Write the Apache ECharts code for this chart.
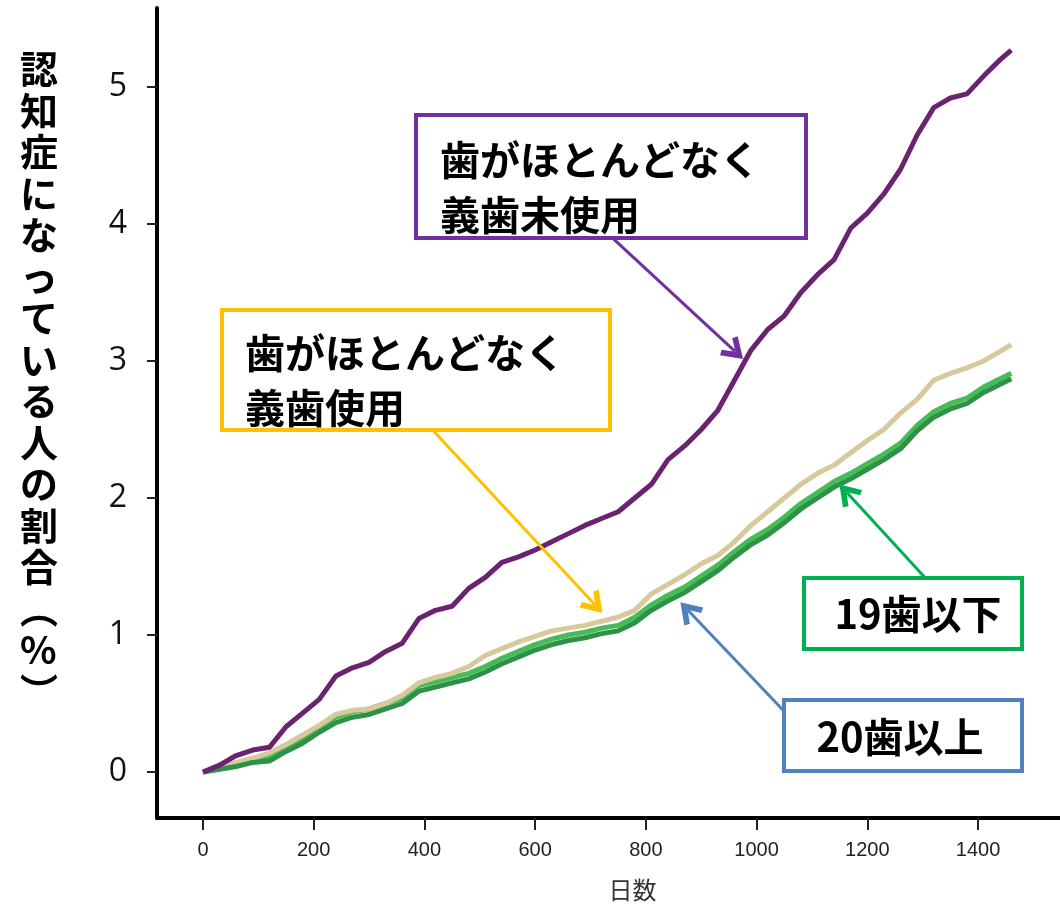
<!DOCTYPE html>
<html>
<head>
<meta charset="utf-8">
<script src="https://cdn.jsdelivr.net/npm/echarts@6/dist/echarts.min.js"></script>
<style>
html,body{margin:0;padding:0;background:#fff;}
#chart{width:1060px;height:910px;}
</style>
</head>
<body>
<div id="chart"></div>
<script>
// ---- data ----
const days = [0,30,60,90,120,150,180,210,240,270,300,330,360,390,420,450,480,510,540,570,600,630,660,690,720,750,780,810,840,870,900,930,960,990,1020,1050,1080,1110,1140,1170,1200,1230,1260,1290,1320,1350,1380,1410,1440,1460];
const seriesNames = ['歯がほとんどなく義歯未使用','歯がほとんどなく義歯使用','19歯以下','20歯以上'];
const noTeethNoDenture = [0,0.05,0.12,0.16,0.18,0.33,0.43,0.53,0.70,0.76,0.80,0.88,0.94,1.12,1.18,1.21,1.34,1.42,1.53,1.57,1.62,1.68,1.74,1.80,1.85,1.90,2.00,2.10,2.28,2.38,2.50,2.64,2.86,3.08,3.23,3.33,3.50,3.63,3.74,3.97,4.08,4.22,4.40,4.65,4.85,4.92,4.95,5.08,5.20,5.27];
const noTeethDenture   = [0,0.03,0.07,0.10,0.14,0.20,0.27,0.34,0.42,0.45,0.46,0.50,0.56,0.65,0.69,0.72,0.77,0.85,0.90,0.95,0.99,1.03,1.05,1.07,1.10,1.13,1.18,1.30,1.37,1.44,1.52,1.58,1.68,1.80,1.90,2.00,2.10,2.18,2.24,2.33,2.42,2.50,2.62,2.72,2.86,2.91,2.95,3.00,3.07,3.12];
const teeth19orLess    = [0,0.03,0.06,0.09,0.11,0.18,0.25,0.33,0.40,0.44,0.46,0.50,0.54,0.63,0.66,0.69,0.72,0.77,0.83,0.88,0.93,0.97,1.00,1.02,1.05,1.07,1.13,1.22,1.29,1.35,1.43,1.51,1.61,1.70,1.77,1.86,1.96,2.04,2.12,2.18,2.25,2.32,2.40,2.53,2.63,2.69,2.73,2.81,2.87,2.91];
const teeth20orMore    = [0,0.02,0.04,0.07,0.08,0.15,0.21,0.29,0.36,0.40,0.42,0.46,0.50,0.59,0.62,0.65,0.68,0.73,0.79,0.84,0.89,0.93,0.96,0.98,1.01,1.03,1.09,1.18,1.25,1.31,1.39,1.47,1.57,1.66,1.73,1.82,1.92,2.00,2.08,2.14,2.21,2.28,2.36,2.49,2.59,2.65,2.69,2.77,2.83,2.87];
const xTicks = [0,200,400,600,800,1000,1200,1400];
const yTicks = [0,1,2,3,4,5];
const xTitle = '日数';
const yTitle = '認知症になっている人の割合︵%︶';
const boxTexts = ['歯がほとんどなく\n義歯未使用','歯がほとんどなく\n義歯使用','19歯以下','20歯以上'];
// arrow start/end in data units [day, %]
const arrows = [
  [[739,3.90],[961,3.07]],
  [[414,2.50],[708,1.22]],
  [[1304,1.42],[1163,2.04]],
  [[1048,0.45],[876,1.18]]
];

const colors = ['#6B2271','#D8C99C','#45BC55','#2E9147'];
const arrowColors = ['#7030A0','#FFC000','#00B050','#4F81BD'];
const chevron = 'path://M10,0 L20,15 L16,17 L10,8 L4,17 L0,15 Z';

const zip = (vals) => days.map((d,i)=>[d, vals[i]]);
const allVals = [noTeethNoDenture, noTeethDenture, teeth19orLess, teeth20orMore];
const zs = [4,3,2,3];

const series = allVals.map((v,i)=>({
  name: seriesNames[i],
  type: 'line',
  data: zip(v),
  showSymbol: false,
  symbol: 'none',
  z: zs[i],
  lineStyle: {color: colors[i], width: 5},
  itemStyle: {color: colors[i]},
  markLine: {
    silent: true,
    animation: false,
    symbol: ['none', chevron],
    symbolSize: [26,22],
    symbolOffset: [0, 0],
    label: {show: false},
    lineStyle: {color: arrowColors[i], width: 3, type: 'solid'},
    data: [[{coord: arrows[i][0]}, {coord: arrows[i][1]}]]
  }
}));

const chart = echarts.init(document.getElementById('chart'));
const cjk = '"Noto Sans CJK JP", "Noto Sans", sans-serif';

const option = {
  backgroundColor: '#fff',
  animation: false,
  grid: {left: 157, right: 0, top: 8, bottom: 92, containLabel: false},
  xAxis: {
    type: 'value',
    min: -83, max: 1548,
    name: xTitle,
    nameLocation: 'middle',
    nameGap: 60,
    nameTextStyle: {fontSize: 24, color: '#333', fontFamily: cjk, padding: [0,0,0,48]},
    axisLine: {show: true, onZero: false, lineStyle: {color: '#000', width: 4}},
    axisTick: {show: true, customValues: xTicks, length: 12, lineStyle: {color: '#222', width: 2}},
    axisLabel: {customValues: xTicks, margin: 22, fontSize: 20, color: '#222',
      fontFamily: '"Liberation Sans Narrow", "Liberation Sans", sans-serif',
      formatter: (v) => String(v)},
    splitLine: {show: false}
  },
  yAxis: {
    type: 'value',
    min: -0.336, max: 5.577,
    axisLine: {show: true, onZero: false, lineStyle: {color: '#000', width: 4}},
    axisTick: {show: true, customValues: yTicks, length: 10, lineStyle: {color: '#222', width: 2}},
    axisLabel: {customValues: yTicks, margin: 30, fontSize: 32, color: '#111', fontFamily: '"Open Sans", "Noto Sans", sans-serif'},
    splitLine: {show: false}
  },
  graphic: [
    {type: 'text', left: 20, top: 48, z: 10,
     style: {text: yTitle.split('').join('\n'), font: 'bold 38px ' + cjk, lineHeight: 41.5, fill: '#000', align: 'center'}},
    {type: 'rect', shape: {x: 416, y: 115, width: 390, height: 123}, z: 10,
     style: {fill: '#fff', stroke: arrowColors[0], lineWidth: 4}},
    {type: 'text', x: 440, y: 132, z: 11,
     style: {text: boxTexts[0], font: 'bold 40px ' + cjk, lineHeight: 55, fill: '#000'}},
    {type: 'rect', shape: {x: 222, y: 310, width: 388, height: 120}, z: 10,
     style: {fill: '#fff', stroke: arrowColors[1], lineWidth: 4}},
    {type: 'text', x: 245, y: 325, z: 11,
     style: {text: boxTexts[1], font: 'bold 40px ' + cjk, lineHeight: 55, fill: '#000'}},
    {type: 'rect', shape: {x: 804, y: 578, width: 218, height: 71}, z: 10,
     style: {fill: '#fff', stroke: arrowColors[2], lineWidth: 4}},
    {type: 'text', x: 918, y: 614, z: 11,
     style: {text: boxTexts[2], font: 'bold 40px ' + cjk, fill: '#000', align: 'center', verticalAlign: 'middle'}},
    {type: 'rect', shape: {x: 784, y: 700, width: 238, height: 71}, z: 10,
     style: {fill: '#fff', stroke: arrowColors[3], lineWidth: 4}},
    {type: 'text', x: 900, y: 737, z: 11,
     style: {text: boxTexts[3], font: 'bold 40px ' + cjk, fill: '#000', align: 'center', verticalAlign: 'middle'}}
  ],
  series: series
};
chart.setOption(option);
</script>
</body>
</html>
